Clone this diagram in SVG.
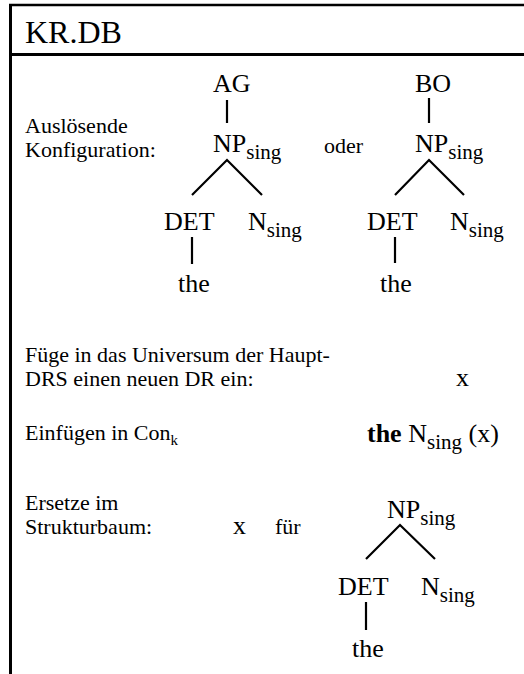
<svg xmlns="http://www.w3.org/2000/svg" width="524" height="674" viewBox="0 0 524 674" font-family="'Liberation Serif', 'DejaVu Serif', serif">
  <style>
    text { font-family: "Liberation Serif", "DejaVu Serif", serif; fill: #000; }
    .title { font-size: 32px; }
    .lbl { font-size: 22px; }
    .nd { font-size: 26px; }
    .sub { font-size: 21px; }
    .subk { font-size: 15px; }
    .b { font-weight: bold; }
    .frame { stroke: #000; fill: none; }
    .edge { stroke: #000; stroke-width: 2.2; fill: none; stroke-linecap: butt; }
  </style>
  <rect width="524" height="674" fill="#fff"/>

  <!-- frame -->
  <g id="frame">
    <line class="frame" x1="9" y1="5" x2="524" y2="5" stroke-width="2.5"/>
    <line class="frame" x1="10.5" y1="4" x2="10.5" y2="674" stroke-width="3"/>
    <line class="frame" x1="10" y1="54.5" x2="524" y2="54.5" stroke-width="3"/>
  </g>
  <g id="title"><text class="title" x="25" y="43">KR.DB</text></g>

  <!-- section labels -->
  <g id="label-config">
    <text class="lbl" x="25" y="133">Auslösende</text>
    <text class="lbl" x="25" y="157">Konfiguration:</text>
  </g>
  <g id="label-oder"><text class="lbl" x="324" y="153">oder</text></g>
  <g id="label-universe">
    <text class="lbl" x="25" y="362">Füge in das Universum der Haupt-</text>
    <text class="lbl" x="25" y="386">DRS einen neuen DR ein:</text>
  </g>
  <g id="dr-x"><text class="nd" x="456" y="386">x</text></g>
  <g id="label-con"><text class="lbl" x="25" y="440">Einfügen in Con<tspan class="subk" dy="5">k</tspan></text></g>
  <g id="condition"><text class="nd" x="367" y="442"><tspan class="b">the </tspan>N<tspan class="sub" dy="7">sing</tspan><tspan dy="-7"> (x)</tspan></text></g>
  <g id="label-replace">
    <text class="lbl" x="25" y="510">Ersetze im</text>
    <text class="lbl" x="25" y="534">Strukturbaum:</text>
  </g>
  <g id="replace-x"><text class="nd" x="233" y="534">x</text></g>
  <g id="label-fuer"><text class="lbl" x="275" y="534">für</text></g>

  <!-- tree 1: AG -->
  <g id="t1-ag"><text class="nd" x="213" y="92">AG</text></g>
  <g id="t1-np"><text class="nd" x="213" y="152">NP<tspan class="sub" dy="7">sing</tspan></text></g>
  <g id="t1-det"><text class="nd" x="164" y="230">DET</text></g>
  <g id="t1-n"><text class="nd" x="248" y="230">N<tspan class="sub" dy="7">sing</tspan></text></g>
  <g id="t1-the"><text class="nd" x="178" y="292">the</text></g>

  <!-- tree 2: BO -->
  <g id="t2-bo"><text class="nd" x="415" y="92">BO</text></g>
  <g id="t2-np"><text class="nd" x="415" y="152">NP<tspan class="sub" dy="7">sing</tspan></text></g>
  <g id="t2-det"><text class="nd" x="367" y="230">DET</text></g>
  <g id="t2-n"><text class="nd" x="450" y="230">N<tspan class="sub" dy="7">sing</tspan></text></g>
  <g id="t2-the"><text class="nd" x="380" y="292">the</text></g>

  <!-- tree 3: replaced NP -->
  <g id="t3-np"><text class="nd" x="387" y="518">NP<tspan class="sub" dy="7">sing</tspan></text></g>
  <g id="t3-det"><text class="nd" x="338" y="595">DET</text></g>
  <g id="t3-n"><text class="nd" x="421" y="595">N<tspan class="sub" dy="7">sing</tspan></text></g>
  <g id="t3-the"><text class="nd" x="352" y="657">the</text></g>

  <!-- tree edges -->
  <g id="connectors">
    <line class="edge" x1="227" y1="100" x2="227" y2="123"/>
    <polyline class="edge" points="192,195 227,160 262,195"/>
    <line class="edge" x1="192" y1="237" x2="192" y2="264"/>

    <line class="edge" x1="429" y1="98" x2="429" y2="123"/>
    <polyline class="edge" points="395,195 429,160 464,195"/>
    <line class="edge" x1="395" y1="237" x2="395" y2="263"/>

    <polyline class="edge" points="366,559 400,525 435,559"/>
    <line class="edge" x1="366" y1="602" x2="366" y2="630"/>
  </g>
</svg>
